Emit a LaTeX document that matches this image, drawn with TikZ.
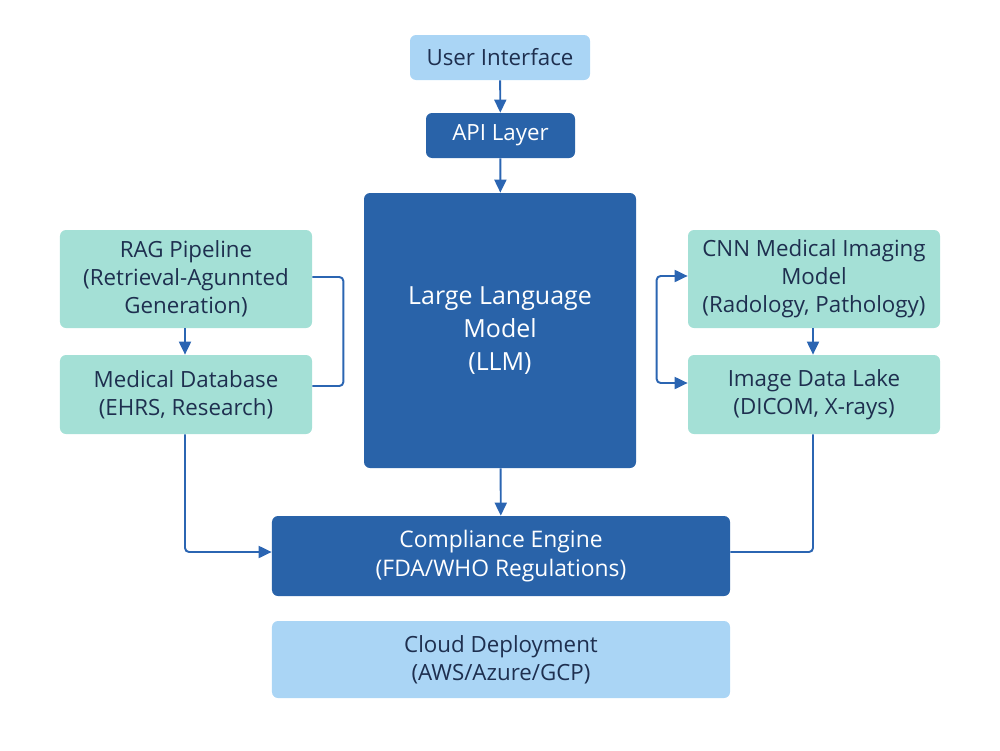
\documentclass[tikz,border=0pt]{standalone}
\usepackage{fontspec}
\setmainfont{Open Sans}
\usetikzlibrary{arrows.meta}
\definecolor{lightblue}{HTML}{AAD5F5}
\definecolor{darkblue}{HTML}{2963A9}
\definecolor{teal}{HTML}{A4E0D6}
\definecolor{navy}{HTML}{1E2F4F}
\definecolor{linkblue}{HTML}{2B65B2}
\tikzset{
  box/.style={rounded corners=1.2mm, align=center, inner sep=0pt,
    font=\fontsize{12.7}{16}\selectfont},
  light/.style={box, fill=lightblue, text=navy},
  dark/.style={box, fill=darkblue, text=white},
  side/.style={box, fill=teal, text=navy, minimum width=50.4mm},
  link/.style={draw=linkblue, line width=1.1pt, rounded corners=0.8mm},
  arrow/.style={link, -{Triangle[length=2.6mm,width=2.4mm]}}
}
\begin{document}
\begin{tikzpicture}[x=0.2mm,y=-0.2mm]
\useasboundingbox (0,0) rectangle (1000,750);
% top
\node[light, minimum width=36mm, minimum height=9mm] (ui) at (500,57.5) {User Interface};
\node[dark, minimum width=29.8mm, minimum height=9mm] (api) at (500.5,135.5) {API Layer};
\node[dark, minimum width=54.4mm, minimum height=55mm,
  font=\fontsize{14.2}{18.8}\selectfont] (llm) at (500,330.5) {Large Language\\Model\\(LLM)};
% left column
\node[side, minimum height=19.6mm] (rag) at (186,279) {RAG Pipeline\\(Retrieval-Agunnted\\Generation)};
\node[side, minimum height=15.8mm] (meddb) at (186,394.5) {Medical Database\\(EHRS, Research)};
% right column
\node[side, minimum height=19.6mm] (cnn) at (814,279) {CNN Medical Imaging\\Model\\(Radology, Pathology)};
\node[side, minimum height=15.8mm] (lake) at (814,394.5) {Image Data Lake\\(DICOM, X-rays)};
% bottom
\node[dark, minimum width=91.6mm, minimum height=16mm,
  font=\fontsize{13}{17}\selectfont] (comp) at (501,556) {Compliance Engine\\(FDA/WHO Regulations)};
\node[light, minimum width=91.6mm, minimum height=15.4mm] (cloud) at (501,659.5) {Cloud Deployment\\(AWS/Azure/GCP)};

\draw[arrow] (ui) -- (api);
\draw[arrow] (api) -- (llm);
\draw[arrow] (llm) -- (comp);
\draw[arrow] (rag.south -| 185,0) -- (meddb.north -| 185,0);
\draw[arrow] (cnn.south -| 813,0) -- (lake.north -| 813,0);
\draw[link] ([yshift=0.4mm]rag.east) -- ++(31,0) |- ([yshift=1.7mm]meddb.east);
\draw[arrow, {Triangle[length=2.6mm,width=2.4mm]}-{Triangle[length=2.6mm,width=2.4mm]}]
  ([yshift=0.6mm]cnn.west) -- ++(-31,0) |- ([yshift=2.3mm]lake.west);
\draw[arrow] (meddb.south -| 185,0) |- ([yshift=0.8mm]comp.west);
\draw[link] (lake.south -| 813,0) |- ([yshift=0.8mm]comp.east);
\end{tikzpicture}
\end{document}
